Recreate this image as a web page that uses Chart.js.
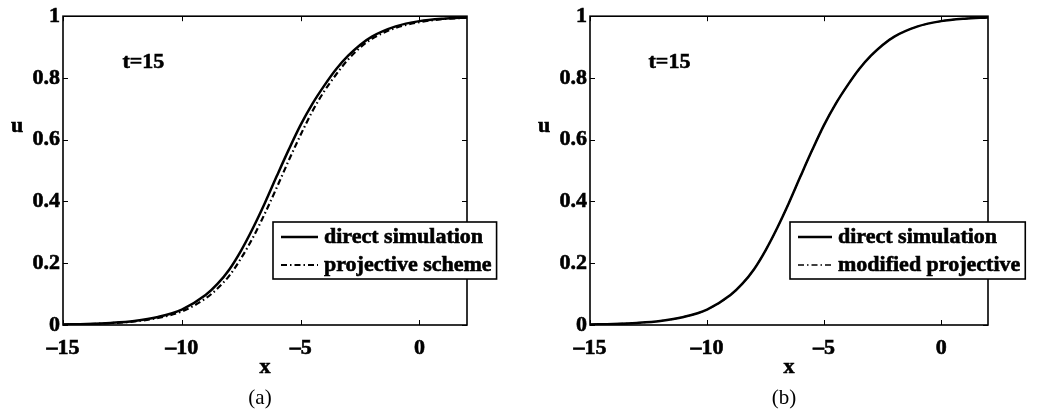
<!DOCTYPE html>
<html>
<head>
<meta charset="utf-8">
<script src="https://cdn.jsdelivr.net/npm/chart.js@4.4.1/dist/chart.umd.min.js"></script>
<style>
  html, body { margin: 0; padding: 0; background: #fff; }
  #wrap { position: relative; width: 1050px; height: 414px; }
  canvas { position: absolute; top: 0; }
</style>
</head>
<body>
<div id="wrap">
  <canvas id="chartA" width="525" height="414" style="left:0"></canvas>
  <canvas id="chartB" width="525" height="414" style="left:525px"></canvas>
</div>
<script>
// values
const xs = [-15, -14, -13, -12, -11, -10, -9, -8.5, -8, -7.5, -7, -6.5, -6, -5.5, -5, -4.5, -4, -3.5, -3, -2.5, -2, -1, 0, 1, 2];
const directA = [0.0018, 0.0035, 0.0068, 0.013, 0.026, 0.05, 0.097, 0.133, 0.18, 0.242, 0.315, 0.396, 0.483, 0.568, 0.648, 0.717, 0.776, 0.829, 0.872, 0.907, 0.934, 0.967, 0.984, 0.992, 0.996];
const projectiveA = [0.0016, 0.003, 0.006, 0.0115, 0.023, 0.044, 0.086, 0.118, 0.16, 0.217, 0.284, 0.362, 0.446, 0.533, 0.616, 0.693, 0.758, 0.812, 0.86, 0.898, 0.927, 0.962, 0.981, 0.9905, 0.995];
const directB = [0.0018, 0.0035, 0.0068, 0.013, 0.026, 0.05, 0.097, 0.133, 0.18, 0.242, 0.315, 0.396, 0.483, 0.568, 0.648, 0.717, 0.776, 0.829, 0.872, 0.907, 0.934, 0.967, 0.984, 0.992, 0.996];
const modifiedB = [0.0018, 0.0035, 0.0068, 0.013, 0.026, 0.05, 0.097, 0.133, 0.18, 0.242, 0.315, 0.396, 0.483, 0.568, 0.648, 0.717, 0.776, 0.829, 0.872, 0.907, 0.934, 0.967, 0.984, 0.992, 0.996];

const xTicks = [-15, -10, -5, 0];
const xTickLabels = ['\u201315', '\u201310', '\u20135', '0'];
const yTicks = [0, 0.2, 0.4, 0.6, 0.8, 1];
const yTickLabels = ['0', '0.2', '0.4', '0.6', '0.8', '1'];
const namesA = ['direct simulation', 'projective scheme'];
const namesB = ['direct simulation', 'modified projective'];
const timeText = 't=15';
const timePos = [-12.5, 0.85];

const boldFont = { family: 'Liberation Serif', size: 22, weight: 'bold' };

// fake the heavier look of the scanned figure text
function heavyText(ctx, s, x, y) {
  ctx.lineWidth = 0.6;
  ctx.strokeText(s, x, y);
  ctx.fillText(s, x, y);
}

function decorations(opt) {
  return {
    id: 'decor',
    afterDatasetsDraw(chart) {
      const ctx = chart.ctx;
      const a = chart.chartArea;
      const xs_ = chart.scales.x, ys_ = chart.scales.y;
      ctx.save();
      ctx.strokeStyle = '#000';
      ctx.fillStyle = '#000';

      // inward tick marks on all four sides
      ctx.lineWidth = 1;
      ctx.beginPath();
      xTicks.forEach(v => {
        const px = Math.round(xs_.getPixelForValue(v)) + 0.5;
        ctx.moveTo(px, a.bottom); ctx.lineTo(px, a.bottom - 5);
        ctx.moveTo(px, a.top); ctx.lineTo(px, a.top + 5);
      });
      yTicks.forEach(v => {
        const py = Math.round(ys_.getPixelForValue(v)) + 0.5;
        ctx.moveTo(a.left, py); ctx.lineTo(a.left + 5, py);
        ctx.moveTo(a.right, py); ctx.lineTo(a.right - 5, py);
      });
      ctx.stroke();

      // axes box
      ctx.lineWidth = 1.6;
      ctx.strokeRect(a.left, a.top, a.right - a.left, a.bottom - a.top);

      // t=15
      ctx.font = 'bold 22px "Liberation Serif"';
      ctx.textAlign = 'left';
      ctx.textBaseline = 'middle';
      heavyText(ctx, timeText, xs_.getPixelForValue(timePos[0]), ys_.getPixelForValue(timePos[1]));

      // axis titles
      ctx.textAlign = 'center';
      heavyText(ctx, 'x', (a.left + a.right) / 2, 367);
      heavyText(ctx, 'u', a.left - 46, 126);

      // legend
      const w = Math.max(...opt.names.map(n => ctx.measureText(n).width));
      const lx = a.left + opt.legendLeft, ly = 222;
      const bw = 8 + opt.sample + 6 + w + 5, bh = 57;
      ctx.fillStyle = '#fff';
      ctx.fillRect(lx, ly, bw, bh);
      ctx.lineWidth = 1.6;
      ctx.strokeRect(lx, ly, bw, bh);
      chart.data.datasets.forEach((ds, i) => {
        const cy = ly + 15 + i * 28;
        ctx.beginPath();
        ctx.lineWidth = ds.borderWidth;
        ctx.setLineDash(ds.borderDash || []);
        ctx.moveTo(lx + 8, cy); ctx.lineTo(lx + 8 + opt.sample, cy);
        ctx.stroke();
        ctx.setLineDash([]);
        ctx.fillStyle = '#000';
        ctx.textAlign = 'left';
        heavyText(ctx, opt.names[i], lx + 8 + opt.sample + 6, cy);
      });

      // caption
      ctx.font = '21px "Liberation Serif"';
      ctx.textAlign = 'center';
      ctx.fillText(opt.caption, (a.left + a.right) / 2 - 5, 398);
      ctx.restore();
    }
  };
}

function makeChart(id, solid, other, opt) {
  return new Chart(document.getElementById(id), {
    type: 'line',
    data: {
      datasets: [
        {
          data: xs.map((x, i) => ({ x: x, y: solid[i] })),
          borderColor: '#000', borderWidth: 2.5, pointRadius: 0,
          cubicInterpolationMode: 'monotone'
        },
        {
          data: xs.map((x, i) => ({ x: x, y: other[i] })),
          borderColor: '#000', borderWidth: opt.dashWidth, borderDash: opt.dash, pointRadius: 0,
          cubicInterpolationMode: 'monotone'
        }
      ]
    },
    options: {
      responsive: false,
      animation: false,
      layout: { padding: { left: 0, top: 15, right: opt.padRight, bottom: 0 } },
      plugins: { legend: { display: false }, tooltip: { enabled: false } },
      scales: {
        x: {
          type: 'linear', min: -15, max: 2,
          afterBuildTicks: s => { s.ticks = xTicks.map(v => ({ value: v })); },
          afterFit: s => { s.height = 89; },
          grid: { display: false, drawTicks: false },
          border: { display: false },
          ticks: { callback: (v, i) => xTickLabels[i], font: boldFont, color: '#000', textStrokeColor: '#000', textStrokeWidth: 0.6, padding: 10, maxRotation: 0, autoSkip: false }
        },
        y: {
          min: 0, max: 1,
          afterBuildTicks: s => { s.ticks = yTicks.map(v => ({ value: v })); },
          afterFit: s => { s.width = opt.yWidth; },
          grid: { display: false, drawTicks: false },
          border: { display: false },
          ticks: { callback: (v, i) => yTickLabels[i], font: boldFont, color: '#000', textStrokeColor: '#000', textStrokeWidth: 0.6, padding: 3, autoSkip: false }
        }
      }
    },
    plugins: [decorations(opt)]
  });
}

makeChart('chartA', directA, projectiveA, { names: namesA, caption: '(a)', padRight: 58, yWidth: 63, legendLeft: 210, sample: 37, dashWidth: 2.2, dash: [6, 3, 1.5, 3] });
makeChart('chartB', directB, modifiedB, { names: namesB, caption: '(b)', padRight: 62, yWidth: 65, legendLeft: 200, sample: 34, dashWidth: 1.5, dash: [6, 3, 1.5, 3] });
</script>
</body>
</html>
